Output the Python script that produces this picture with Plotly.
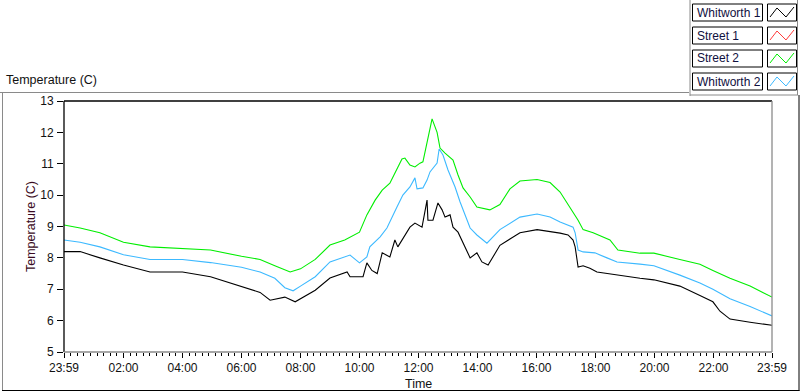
import plotly.graph_objects as go

# ---------------- data (hours of day; 23:59 of previous day = -1/60) ----------------
t_street2 = [-0.017, 0.53, 1.2, 2.0, 2.9, 4.0, 4.95, 6.0, 6.63, 7.13, 7.65, 8.0, 8.5, 9.0, 9.5,
             10.0, 10.25, 10.53, 10.77, 11.03, 11.3, 11.44, 11.54, 11.71, 11.88, 12.05, 12.15,
             12.29, 12.39, 12.46, 12.63, 12.73, 12.9, 13.17, 13.34, 13.51, 13.75, 13.98, 14.42,
             14.76, 15.1, 15.44, 16.02, 16.46, 16.8, 17.14, 17.41, 17.58, 17.92, 18.49, 18.76,
             19.51, 19.98, 20.86, 21.54, 21.98, 22.56, 23.24, 23.75, 23.983]
v_street2 = [9.05, 8.95, 8.8, 8.5, 8.35, 8.3, 8.25, 8.05, 7.95, 7.75, 7.55, 7.65, 7.95, 8.41, 8.57,
             8.82, 9.37, 9.84, 10.16, 10.38, 10.9, 11.15, 11.18, 10.96, 10.9, 11.02, 11.06,
             11.66, 12.14, 12.43, 12.0, 11.5, 11.34, 11.12, 10.64, 10.23, 9.94, 9.62, 9.53,
             9.7, 10.2, 10.45, 10.5, 10.4, 10.1, 9.6, 9.2, 8.9, 8.8, 8.57, 8.25,
             8.15, 8.15, 7.95, 7.8, 7.6, 7.35, 7.1, 6.85, 6.75]

t_whit2 = [-0.017, 0.53, 1.2, 2.0, 2.9, 4.0, 4.95, 6.0, 6.63, 7.13, 7.47, 7.75, 8.0, 8.5, 9.0,
           9.68, 10.0, 10.25, 10.35, 10.7, 10.93, 11.1, 11.27, 11.47, 11.71, 11.88, 11.95, 12.15,
           12.29, 12.39, 12.63, 12.7, 12.83, 13.0, 13.24, 13.41, 13.58, 13.75, 13.98, 14.32,
           14.76, 15.1, 15.44, 16.02, 16.46, 16.8, 17.24, 17.31, 17.37, 17.41, 17.58, 17.98,
           18.39, 18.73, 19.51, 19.98, 20.86, 21.54, 21.98, 22.56, 23.24, 23.983]
v_whit2 = [8.57, 8.5, 8.35, 8.1, 7.95, 7.95, 7.85, 7.7, 7.55, 7.35, 7.05, 6.95, 7.1, 7.4, 7.87,
           8.09, 7.84, 8.03, 8.35, 8.67, 8.95, 9.3, 9.62, 10.0, 10.26, 10.55, 10.2, 10.23,
           10.48, 10.74, 11.02, 11.47, 11.28, 10.8, 10.26, 9.78, 9.37, 8.95, 8.73, 8.47,
           8.9, 9.1, 9.3, 9.4, 9.3, 9.14, 8.98, 8.8, 8.47, 8.25, 8.19, 8.16,
           8.0, 7.87, 7.8, 7.75, 7.45, 7.2, 7.0, 6.7, 6.45, 6.15]

t_whit1 = [-0.017, 0.53, 1.2, 2.0, 2.9, 4.0, 4.95, 5.6, 6.0, 6.63, 6.97, 7.47, 7.82, 8.0, 8.5,
           9.0, 9.58, 9.68, 10.12, 10.25, 10.42, 10.6, 10.77, 11.03, 11.2, 11.3, 11.71, 11.88,
           12.12, 12.29, 12.32, 12.49, 12.66, 12.8, 12.9, 13.07, 13.17, 13.34, 13.51, 13.75,
           13.98, 14.15, 14.36, 14.76, 15.1, 15.44, 16.02, 16.46, 16.8, 17.07, 17.24, 17.31,
           17.37, 17.41, 17.58, 17.81, 18.05, 18.39, 18.73, 19.51, 19.98, 20.86, 21.54, 21.98,
           22.22, 22.56, 23.24, 23.983]
v_whit1 = [8.2, 8.2, 8.0, 7.77, 7.55, 7.55, 7.4, 7.2, 7.07, 6.9, 6.65, 6.75, 6.6, 6.7, 6.97,
           7.36, 7.55, 7.4, 7.4, 7.84, 7.6, 7.5, 8.16, 8.03, 8.57, 8.35, 8.98, 9.11,
           8.98, 9.84, 9.2, 9.2, 9.75, 9.53, 9.3, 9.37, 8.98, 8.82, 8.47, 8.0,
           8.16, 7.87, 7.77, 8.4, 8.6, 8.8, 8.9, 8.85, 8.79, 8.73, 8.57, 8.35,
           7.84, 7.71, 7.75, 7.67, 7.55, 7.5, 7.45, 7.35, 7.3, 7.1, 6.8, 6.6,
           6.3, 6.05, 5.95, 5.85]

t_street1 = []
v_street1 = []

series_names = ["Whitworth 1", "Street 1", "Street 2", "Whitworth 2"]
series_colors = ["#000000", "#ff3b3b", "#00ee00", "#3cb9ff"]

tick_vals = [-1 / 60, 2, 4, 6, 8, 10, 12, 14, 16, 18, 20, 22, 23 + 59 / 60]
tick_text = ["23:59", "02:00", "04:00", "06:00", "08:00", "10:00", "12:00",
             "14:00", "16:00", "18:00", "20:00", "22:00", "23:59"]
y_ticks = [5, 6, 7, 8, 9, 10, 11, 12, 13]

# ---------------- figure ----------------
W, H = 800, 392
L, R, T, B = 64, 772, 101, 352
FONT = "Liberation Sans"


def PX(x):
    return (x - L) / (R - L)


def PY(y):
    return (B - y) / (B - T)


fig = go.Figure()
data = {
    "Whitworth 1": (t_whit1, v_whit1),
    "Street 1": (t_street1, v_street1),
    "Street 2": (t_street2, v_street2),
    "Whitworth 2": (t_whit2, v_whit2),
}
draw_order = ["Street 1", "Street 2", "Whitworth 2", "Whitworth 1"]
for name in draw_order:
    t, v = data[name]
    c = series_colors[series_names.index(name)]
    fig.add_trace(go.Scatter(x=t, y=v, mode="lines", name=name,
                             line=dict(color=c, width=1.1), showlegend=False))

# minor ticks: 8 between consecutive majors
minor_vals = []
for a, b in zip(tick_vals[:-1], tick_vals[1:]):
    for k in range(1, 9):
        minor_vals.append(a + (b - a) * k / 9)

fig.update_layout(
    width=W, height=H,
    margin=dict(l=L, r=W - R, t=T, b=H - B, pad=0),
    paper_bgcolor="white", plot_bgcolor="white",
    font=dict(family=FONT, size=11, color="#111111"),
    xaxis=dict(range=[tick_vals[0], tick_vals[-1]], tickmode="array", tickvals=tick_vals,
               ticktext=tick_text, ticks="outside", ticklen=5, tickcolor="black",
               tickwidth=1, showgrid=False, zeroline=False, showline=False,
               tickfont=dict(family=FONT, size=12, color="#111111"),
               minor=dict(tickmode="array", tickvals=minor_vals, ticks="outside",
                          ticklen=3, tickcolor="black", tickwidth=1, showgrid=False)),
    yaxis=dict(range=[5, 13], tickmode="array", tickvals=y_ticks, ticks="outside",
               ticklen=6, tickcolor="black", tickwidth=1, showgrid=False,
               zeroline=False, showline=False, ticklabelstandoff=1,
               tickfont=dict(family=FONT, size=12, color="#111111")),
)

shapes = []
# plot borders
shapes.append(dict(type="line", xref="paper", yref="paper", x0=0, x1=0, y0=0, y1=1,
                   line=dict(color="black", width=1.3)))
shapes.append(dict(type="line", xref="paper", yref="paper", x0=0, x1=1, y0=1, y1=1,
                   line=dict(color="black", width=1.3)))
shapes.append(dict(type="line", xref="paper", yref="paper", x0=0, x1=1, y0=0, y1=0,
                   line=dict(color="#8a8a8a", width=1.3)))
shapes.append(dict(type="line", xref="paper", yref="paper", x0=1, x1=1, y0=0, y1=1,
                   line=dict(color="#8a8a8a", width=1.3)))
# outer frame
shapes.append(dict(type="line", xref="paper", yref="paper", x0=PX(0), x1=PX(689),
                   y0=PY(92.5), y1=PY(92.5), line=dict(color="#8a8a8a", width=1)))
shapes.append(dict(type="line", xref="paper", yref="paper", x0=PX(2.5), x1=PX(2.5),
                   y0=PY(92.5), y1=PY(391), line=dict(color="#8a8a8a", width=1)))
shapes.append(dict(type="line", xref="paper", yref="paper", x0=PX(2), x1=PX(799.5),
                   y0=PY(390.5), y1=PY(390.5), line=dict(color="black", width=1)))
shapes.append(dict(type="line", xref="paper", yref="paper", x0=PX(799), x1=PX(799),
                   y0=PY(95), y1=PY(391), line=dict(color="black", width=1)))
# legend panel edges
shapes.append(dict(type="line", xref="paper", yref="paper", x0=PX(690), x1=PX(690),
                   y0=PY(0), y1=PY(96), line=dict(color="#8a8a8a", width=1)))
shapes.append(dict(type="line", xref="paper", yref="paper", x0=PX(690), x1=PX(798),
                   y0=PY(95), y1=PY(95), line=dict(color="#8a8a8a", width=1)))
shapes.append(dict(type="line", xref="paper", yref="paper", x0=PX(797.5), x1=PX(797.5),
                   y0=PY(0), y1=PY(95), line=dict(color="#8a8a8a", width=1)))

annotations = []
row_tops = [4, 27, 50, 73]
for i, name in enumerate(series_names):
    top = row_tops[i]
    bot = top + 17
    shapes.append(dict(type="rect", xref="paper", yref="paper", x0=PX(692.5), x1=PX(762.5),
                       y0=PY(bot), y1=PY(top), line=dict(color="black", width=1),
                       fillcolor="white"))
    shapes.append(dict(type="rect", xref="paper", yref="paper", x0=PX(767.5), x1=PX(796.5),
                       y0=PY(bot), y1=PY(top), line=dict(color="black", width=1),
                       fillcolor="white"))
    pts = [(770, bot - 4), (777, top + 4), (786, bot - 4), (794, top + 3)]
    path = "M " + " L ".join(f"{PX(x):.5f},{PY(y):.5f}" for x, y in pts)
    shapes.append(dict(type="path", xref="paper", yref="paper", path=path,
                       line=dict(color=series_colors[i], width=1)))
    annotations.append(dict(text=name, xref="paper", yref="paper", x=PX(695),
                            y=PY((top + bot) / 2), xanchor="left", yanchor="middle",
                            showarrow=False,
                            font=dict(family=FONT, size=12, color="#101040")))

annotations.append(dict(text="Temperature (C)", xref="paper", yref="paper", x=PX(4),
                        y=PY(80), xanchor="left", yanchor="middle", showarrow=False,
                        font=dict(family=FONT, size=12.5, color="#111111")))
annotations.append(dict(text="Temperature (C)", xref="paper", yref="paper", x=PX(31),
                        y=PY(227), xanchor="center", yanchor="middle", textangle=-90,
                        showarrow=False, font=dict(family=FONT, size=12.5, color="#3a0a22")))
annotations.append(dict(text="Time", xref="paper", yref="paper", x=PX(418),
                        y=PY(384), xanchor="center", yanchor="middle", showarrow=False,
                        font=dict(family=FONT, size=12.5, color="#111111")))

fig.update_layout(shapes=shapes, annotations=annotations)
fig.write_html("out.html", config={"displayModeBar": False},
               post_script="document.body.style.margin='0';document.body.style.padding='0';")
